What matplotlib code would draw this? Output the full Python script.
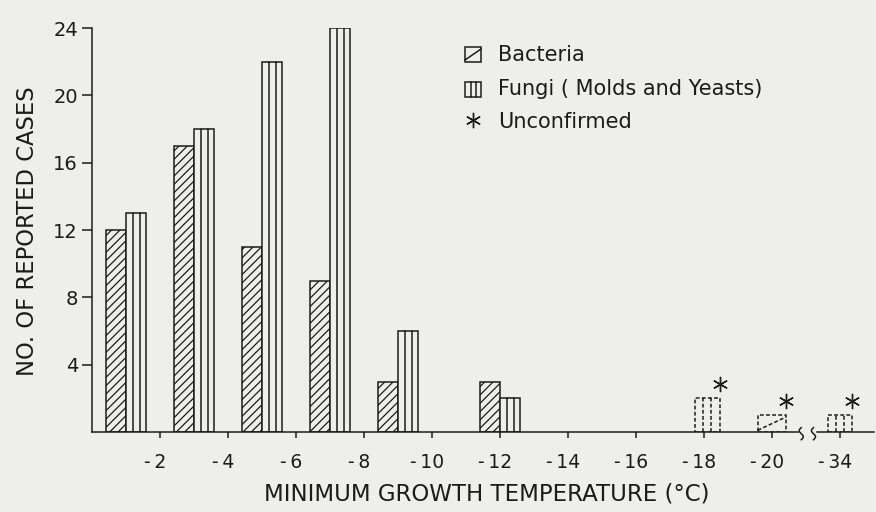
import matplotlib.pyplot as plt
import numpy as np
import matplotlib.transforms as mtransforms
from matplotlib.patches import Rectangle
from matplotlib.lines import Line2D

# confirmed cases per temperature range
bins = ['0 to -2', '-2 to -4', '-4 to -6', '-6 to -8', '-8 to -10', '-12']
bacteria = [12, 17, 11, 9, 3, 3]
fungi = [13, 18, 22, 24, 6, 2]

# unconfirmed cases
unconf_bins = ['-18', '-20', '-34']
unconf_bacteria = [0, 1, 0]
unconf_fungi = [2, 0, 1]

tick_labels = ['-2', '-4', '-6', '-8', '-10', '-12', '-14', '-16', '-18', '-20', '-34']
y_ticks = [4, 8, 12, 16, 20, 24]

# layout (in tick units along the x axis)
group_x = [0.5, 1.5, 2.5, 3.5, 4.5, 6.0]
unconf_x = [9.05, 10.0, 11.0]

W, H = 876, 512
bg = '#eeeeec'
ink = '#1c1c1c'
lw = 1.1

plt.rcParams['font.family'] = ['DejaVu Sans']
plt.rcParams['hatch.linewidth'] = 0.9
plt.rcParams['hatch.color'] = ink

fig = plt.figure(figsize=(W / 100, H / 100), dpi=100, facecolor=bg)
ax = fig.add_axes([92 / W, 80 / H, (874 - 92) / W, 404 / H])
ax.set_facecolor(bg)
xmax = (874 - 92) / 68
ax.set_xlim(0, xmax)
ax.set_ylim(0, 24)

w = 0.3
gx = np.array(group_x)
ax.bar(gx - w / 2, bacteria, w, facecolor=bg, edgecolor=ink, hatch='////', lw=lw)
ax.bar(gx + w / 2, fungi, w, facecolor=bg, edgecolor=ink, lw=lw)
for xc, h in zip(gx + w / 2, fungi):
    for f in (-1 / 6, 1 / 6):
        ax.plot([xc + f * w, xc + f * w], [0, h], color=ink, lw=lw)

# unconfirmed bars: dashed outlines plus an asterisk
dash = (0, (2.5, 1.5))
wf, wb = 0.36, 0.42
star_off = 0.83
star = dict(marker=(6, 2, 0), ms=11, mew=1.0, color=ink, clip_on=False)
for xc, b, f in zip(unconf_x, unconf_bacteria, unconf_fungi):
    if f:
        ax.bar(xc, f, wf, facecolor=bg, edgecolor=ink, lw=lw, linestyle=dash)
        for k in (-1 / 6, 1 / 6):
            ax.plot([xc + k * wf] * 2, [0, f], color=ink, lw=lw, linestyle=dash)
        ax.plot(xc + wf / 2, f + star_off, **star)
    if b:
        ax.bar(xc, b, wb, facecolor=bg, edgecolor=ink, lw=lw, linestyle=dash)
        ax.plot([xc - wb / 2, xc + wb / 2], [0.1 * b, 0.9 * b], color=ink,
                lw=lw, linestyle=dash)
        ax.plot(xc + wb / 2, b + star_off, **star)

# axes lines, with a break between -20 and -34
for s in ['top', 'right', 'bottom']:
    ax.spines[s].set_visible(False)
ax.spines['left'].set_color(ink)
ax.spines['left'].set_linewidth(lw)
ax.spines['left'].set_bounds(0, 24)
b0, b1 = 10.38, 10.66
ax.plot([0, b0], [0, 0], color=ink, lw=lw, clip_on=False)
ax.plot([b1, xmax], [0, 0], color=ink, lw=lw, clip_on=False)
t = np.linspace(-1, 1, 40)
for x0 in (b0 + 0.05, b1 - 0.05):
    ax.plot(x0 + 0.03 * np.sin(np.pi * t), -0.1 - 0.36 * t, color=ink,
            lw=lw, clip_on=False)

ax.set_xticks(range(1, len(tick_labels) + 1))
ax.set_xticklabels(['-\u2009' + s[1:] for s in tick_labels])
ax.tick_params(axis='x', direction='out', length=4, width=lw, pad=11,
               labelsize=13.5, colors=ink)
ax.set_yticks(y_ticks)
ax.set_yticklabels([str(v) for v in y_ticks])
ax.tick_params(axis='y', direction='out', length=7, width=lw, pad=3,
               labelsize=14, colors=ink)
shift = mtransforms.ScaledTranslation(-0.05, 0, fig.dpi_scale_trans)
for lbl in ax.get_xticklabels():
    lbl.set_transform(lbl.get_transform() + shift)

fig.text(28 / W, 1 - 231 / H, 'NO. OF REPORTED CASES', rotation=90,
         ha='center', va='center', fontsize=16.3, color=ink)
fig.text(487 / W, 1 - 494 / H, 'MINIMUM GROWTH TEMPERATURE (°C)',
         ha='center', va='center', fontsize=16.5, color=ink)


# legend
def px(x, y):
    return x / W, 1 - y / H


fig.add_artist(Rectangle(px(465, 62), 16 / W, 15 / H, transform=fig.transFigure,
                         fill=False, ec=ink, lw=lw))
fig.add_artist(Line2D([465 / W, 481 / W], [1 - 60 / H, 1 - 49 / H],
                      transform=fig.transFigure, color=ink, lw=lw))
fig.add_artist(Rectangle(px(465, 97), 16 / W, 15 / H, transform=fig.transFigure,
                         fill=False, ec=ink, lw=lw))
for xi in (470.5, 475.5):
    fig.add_artist(Line2D([xi / W] * 2, [1 - 97 / H, 1 - 82 / H],
                          transform=fig.transFigure, color=ink, lw=lw))
fig.add_artist(Line2D([473 / W], [1 - 120 / H], marker=(6, 2, 0), ms=11,
                      mew=1.0, color=ink, transform=fig.transFigure))
fig.text(498 / W, 1 - 55 / H, 'Bacteria', va='center', fontsize=15, color=ink)
fig.text(498 / W, 1 - 89 / H, 'Fungi ( Molds and Yeasts)', va='center',
         fontsize=15, color=ink)
fig.text(498 / W, 1 - 122 / H, 'Unconfirmed', va='center', fontsize=15, color=ink)

fig.savefig('out.png', dpi=100, facecolor=bg)
